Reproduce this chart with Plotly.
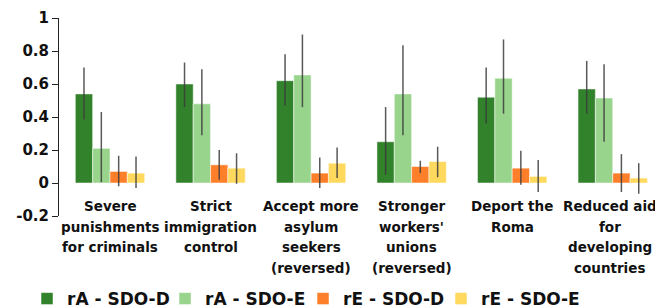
import plotly.graph_objects as go

categories = [
    "Severe punishments for criminals",
    "Strict immigration control",
    "Accept more asylum seekers (reversed)",
    "Stronger workers' unions (reversed)",
    "Deport the Roma",
    "Reduced aid for developing countries",
]
category_lines = [
    ["Severe", "punishments", "for criminals"],
    ["Strict", "immigration", "control"],
    ["Accept more", "asylum", "seekers", "(reversed)"],
    ["Stronger", "workers'", "unions", "(reversed)"],
    ["Deport the", "Roma"],
    ["Reduced aid", "for", "developing", "countries"],
]
series_names = ["rA - SDO-D", "rA - SDO-E", "rE - SDO-D", "rE - SDO-E"]
colors = ["#31822A", "#98D48B", "#FE7F2A", "#FFD85E"]

rA_D = [0.54, 0.60, 0.62, 0.25, 0.52, 0.57]
rA_E = [0.21, 0.48, 0.655, 0.54, 0.635, 0.515]
rE_D = [0.07, 0.11, 0.06, 0.10, 0.09, 0.06]
rE_E = [0.06, 0.09, 0.12, 0.13, 0.04, 0.03]

rA_D_hi = [0.70, 0.73, 0.78, 0.46, 0.70, 0.74]
rA_D_lo = [0.385, 0.46, 0.47, 0.05, 0.36, 0.42]
rA_E_hi = [0.43, 0.69, 0.90, 0.835, 0.87, 0.72]
rA_E_lo = [0.005, 0.29, 0.46, 0.29, 0.42, 0.25]
rE_D_hi = [0.165, 0.20, 0.155, 0.135, 0.195, 0.175]
rE_D_lo = [-0.02, 0.02, -0.03, 0.06, -0.01, -0.055]
rE_E_hi = [0.16, 0.18, 0.215, 0.22, 0.14, 0.12]
rE_E_lo = [-0.03, -0.005, 0.03, 0.035, -0.055, -0.065]

values = [rA_D, rA_E, rE_D, rE_E]
highs = [rA_D_hi, rA_E_hi, rE_D_hi, rE_E_hi]
lows = [rA_D_lo, rA_E_lo, rE_D_lo, rE_E_lo]

FONT = "'DejaVu Sans', sans-serif"

fig = go.Figure()
for name, col, v, hi, lo in zip(series_names, colors, values, highs, lows):
    fig.add_trace(go.Bar(
        x=categories, y=v, name=name,
        marker=dict(color=col, line=dict(color="rgba(255,255,255,0.5)", width=1)),
        error_y=dict(
            type="data", symmetric=False,
            array=[h - y for h, y in zip(hi, v)],
            arrayminus=[y - l for y, l in zip(v, lo)],
            color="rgba(60,60,60,0.85)", thickness=1.5, width=0,
        ),
    ))

n_cat = len(categories)
for k, (c, lines) in enumerate(zip(categories, category_lines)):
    for i, line in enumerate(lines):
        fig.add_annotation(
            x=c, y=0, xref="x", yref="y", text=line, showarrow=False,
            yanchor="top", yshift=-13 - 20.5 * i, align="center",
            xshift=-3 if k == n_cat - 1 else 0,
            font=dict(family=FONT, size=13.5, color="#111111", weight="bold"),
        )

# the page body adds an 8px offset, so the layout is shifted up/left by 8px
fig.update_layout(
    width=663, height=308,
    margin=dict(l=51, r=8, t=10, b=100, autoexpand=False),
    paper_bgcolor="white", plot_bgcolor="white",
    barmode="group", bargap=0.31, bargroupgap=0,
    font=dict(family=FONT, color="#111111"),
    showlegend=True,
    legend=dict(
        orientation="h", xref="container", yref="container",
        x=0.0287, xanchor="left", y=0.1136, yanchor="top",
        font=dict(family=FONT, size=17, color="#111111", weight="bold"),
        itemwidth=30, entrywidth=93, traceorder="normal",
    ),
    xaxis=dict(showticklabels=False, showline=False, showgrid=False, zeroline=False,
               ticks="", automargin=False),
    yaxis=dict(range=[-0.2, 1], tickvals=[-0.2, 0, 0.2, 0.4, 0.6, 0.8, 1],
               ticktext=["-0.2", "0", "0.2", "0.4", "0.6", "0.8", "1"],
               showgrid=False, zeroline=False, showline=True, linecolor="#222222",
               linewidth=1, ticks="outside", ticklen=6, tickcolor="#222222",
               automargin=False,
               tickfont=dict(family=FONT, size=15, color="#111111", weight="bold")),
)

fig.write_html("out.html")
